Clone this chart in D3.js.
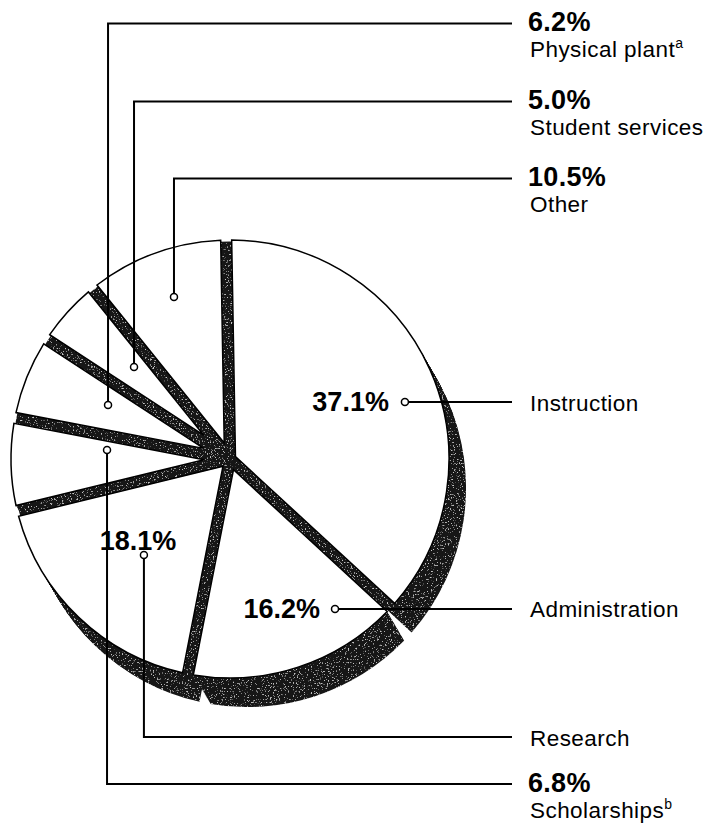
<!DOCTYPE html>
<html>
<head>
<meta charset="utf-8">
<script src="https://cdn.jsdelivr.net/npm/d3@7/dist/d3.min.js"></script>
<style>
  html, body { margin: 0; padding: 0; background: #fff; }
  svg { display: block; }
  text { font-family: "Liberation Sans", Arial, Helvetica, sans-serif; fill: #000; }
</style>
</head>
<body>
<svg id="chart" width="709" height="823"></svg>
<script>
// ---- data ----
const categories = ["Instruction", "Administration", "Research", "Scholarships", "Physical plant", "Student services", "Other"];
const values = [37.1, 16.2, 18.1, 6.8, 6.2, 5.0, 10.5];
const valueLabels = ["37.1%", "16.2%", "18.1%", "6.8%", "6.2%", "5.0%", "10.5%"];
const footnotes = ["", "", "", "b", "a", "", ""];

// ---- layout (not data) ----
const cx = 230, cy = 459, R = 219;
const shadowOffset = [17, 29];
const gapHalf = 5.5;             // half width of the parallel gap between slices
const startDeg = -1;
const lineEndX = 512, pctX = 528, nameX = 530;
const pctSize = 27, nameSize = 22.5, nameSpacing = 0.45;
// leader anchor: angle offset from slice mid (deg), radius fraction, route, leader y, in-pie percent placement
const leaders = [
  { da: 6.11,   rf: 0.840, route: "right", pctIn: { anchor: "end",    dx: -16, dy: 9 } },
  { da: -16.88, rf: 0.836, route: "right", pctIn: { anchor: "end",    dx: -15, dy: 9 } },
  { da: -1.82,  rf: 0.589, route: "down", ly: 737, pctIn: { anchor: "middle", dx: -6, dy: -5 } },
  { da: 5.64,   rf: 0.563, route: "down", ly: 784 },
  { da: 1.9,    rf: 0.609, route: "up",   ly: 23.5 },
  { da: 1.63,   rf: 0.607, route: "up",   ly: 101.5 },
  { da: 0.85,   rf: 0.783, route: "up",   ly: 178.5 }
];

const svg = d3.select("#chart");
const toRad = d => d * Math.PI / 180;

const defs = svg.append("defs");
const f = defs.append("filter").attr("id", "grain")
  .attr("x", 0).attr("y", 0).attr("width", "100%").attr("height", "100%");
f.append("feTurbulence").attr("type", "fractalNoise").attr("baseFrequency", 0.65)
  .attr("numOctaves", 2).attr("seed", 7).attr("result", "n");
f.append("feColorMatrix").attr("in", "n").attr("type", "matrix")
  .attr("values", "0 0 0 0 0.55  0 0 0 0 0.55  0 0 0 0 0.55  7 0 0 0 -4.3")
  .attr("result", "spots");
f.append("feComposite").attr("in", "spots").attr("in2", "SourceGraphic")
  .attr("operator", "in").attr("result", "s2");
const fm = f.append("feMerge");
fm.append("feMergeNode").attr("in", "SourceGraphic");
fm.append("feMergeNode").attr("in", "s2");

const rows = categories.map((c, i) => ({ name: c, v: values[i], label: valueLabels[i], fn: footnotes[i], lay: leaders[i] }));

const pie = d3.pie().sort(null).value(d => d.v)
  .startAngle(toRad(startDeg)).endAngle(toRad(startDeg) + 2 * Math.PI);
const arcs = pie(rows);

// slice with parallel-offset edges (constant-width gaps)
function slicePath(a) {
  const a0 = a.startAngle, a1 = a.endAngle;
  const span = a1 - a0, mid = (a0 + a1) / 2;
  const dTip = gapHalf / Math.sin(span / 2);
  const e = Math.asin(gapHalf / R);
  const p = d3.path();
  p.moveTo(dTip * Math.sin(mid), -dTip * Math.cos(mid));
  const s = a0 + e, t = a1 - e;
  p.lineTo(R * Math.sin(s), -R * Math.cos(s));
  p.arc(0, 0, R, s - Math.PI / 2, t - Math.PI / 2, false);
  p.closePath();
  return p.toString();
}

const dark = "#161616";
const g = svg.append("g").attr("transform", `translate(${cx},${cy})`);

// dark base + extruded depth of each slice
const shadow = g.append("g").attr("filter", "url(#grain)");
shadow.append("circle").attr("r", R - 1.5).attr("fill", dark);
const steps = d3.range(0, 1.0001, 1 / 30);
steps.forEach(t => {
  shadow.selectAll(null).data(arcs).enter().append("path")
    .attr("d", slicePath)
    .attr("transform", `translate(${shadowOffset[0] * t},${shadowOffset[1] * t})`)
    .attr("fill", dark);
});

// white tops
g.selectAll("path.top").data(arcs).enter().append("path")
  .attr("class", "top")
  .attr("d", slicePath)
  .attr("fill", "#fff")
  .attr("stroke", "#000")
  .attr("stroke-width", 1.5)
  .attr("stroke-linejoin", "miter");

// leaders
const lead = svg.append("g");
arcs.forEach(a => {
  const L = a.data.lay;
  const mid = (a.startAngle + a.endAngle) / 2 + toRad(L.da);
  const r = L.rf * R;
  const ax = cx + r * Math.sin(mid);
  const ay = cy - r * Math.cos(mid);
  let pts, ly;
  if (L.route === "right") {
    ly = ay;
    pts = [[ax, ay], [lineEndX, ay]];
  } else {
    ly = L.ly;
    pts = [[ax, ay], [ax, ly], [lineEndX, ly]];
  }
  lead.append("path")
    .attr("d", d3.line()(pts))
    .attr("fill", "none")
    .attr("stroke", "#000")
    .attr("stroke-width", 2)
    .attr("stroke-linejoin", "miter");

  if (L.pctIn) {
    lead.append("text").attr("x", nameX).attr("y", ly + 8.5)
      .attr("font-size", nameSize).attr("letter-spacing", nameSpacing).text(a.data.name);
    svg.append("text")
      .attr("x", ax + L.pctIn.dx).attr("y", ay + L.pctIn.dy)
      .attr("text-anchor", L.pctIn.anchor)
      .attr("font-size", pctSize).attr("font-weight", "bold")
      .text(a.data.label);
  } else {
    lead.append("text").attr("x", pctX).attr("y", ly + 7.5)
      .attr("font-size", pctSize).attr("font-weight", "bold")
      .attr("letter-spacing", 0.3)
      .text(a.data.label);
    const t = lead.append("text").attr("x", nameX).attr("y", ly + 33.5)
      .attr("font-size", nameSize).attr("letter-spacing", nameSpacing).text(a.data.name);
    if (a.data.fn) {
      t.append("tspan").attr("font-size", 14).attr("dy", -9).text(a.data.fn);
    }
  }
  a.anchor = [ax, ay];
});

// anchor circles on top
svg.append("g").selectAll("circle").data(arcs).enter().append("circle")
  .attr("cx", d => d.anchor[0]).attr("cy", d => d.anchor[1])
  .attr("r", 3.5)
  .attr("fill", "#fff").attr("stroke", "#000").attr("stroke-width", 1.5);
</script>
</body>
</html>
